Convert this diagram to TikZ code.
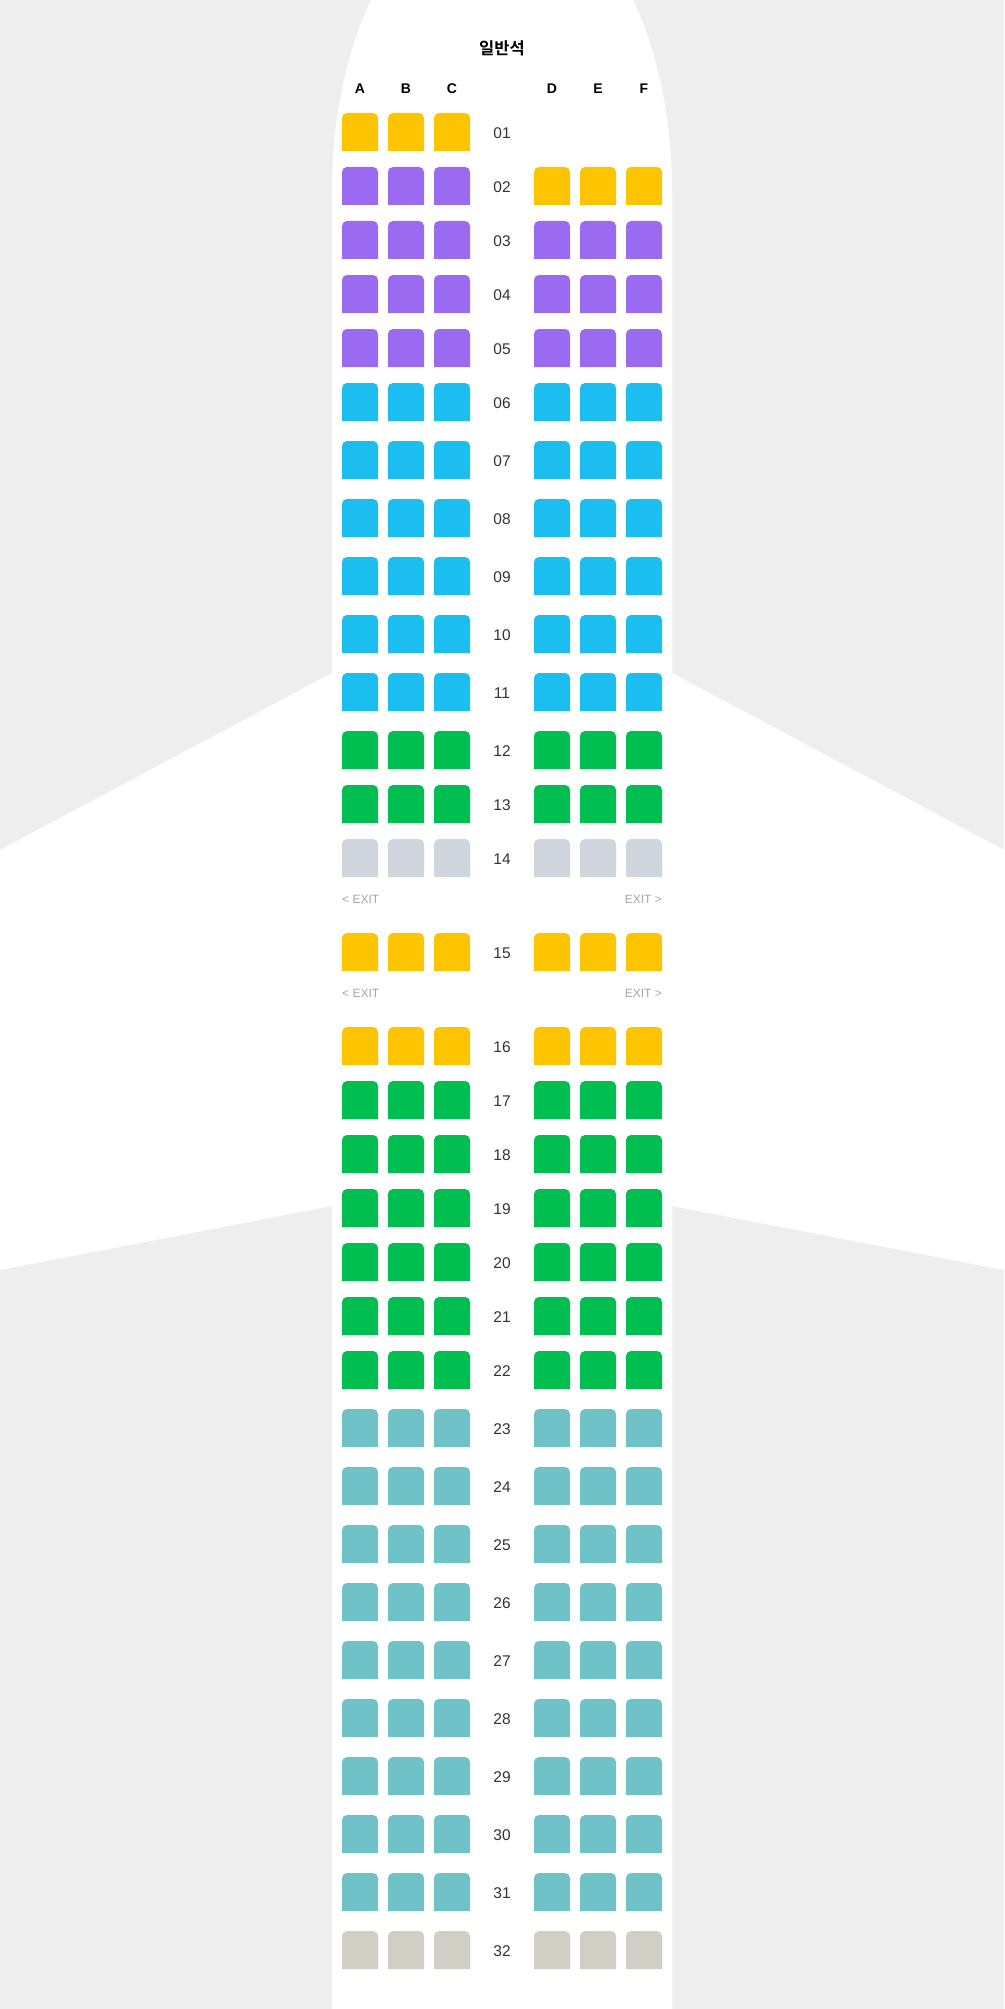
\documentclass[tikz,border=0pt]{standalone}
\usepackage{fontspec}
\setmainfont{Liberation Sans}
\newfontfamily\krfont{Noto Sans CJK KR}[BoldFont={Noto Sans CJK KR Bold}]
\definecolor{bgc}{HTML}{EEEEEE}
\definecolor{sY}{HTML}{FFC400}
\definecolor{sP}{HTML}{9A6AF0}
\definecolor{sB}{HTML}{1CBDEF}
\definecolor{sG}{HTML}{00BF50}
\definecolor{sS}{HTML}{CFD6DD}
\definecolor{sT}{HTML}{6FC3C8}
\definecolor{sK}{HTML}{D1CFC3}
\definecolor{rowtxt}{HTML}{333333}
\definecolor{exittxt}{HTML}{A6A6A6}
\newcommand\seatbox[3]{\fill[#3,rounded corners=5] (#1,#2+38) -- (#1,#2) -- (#1+36,#2) -- (#1+36,#2+38);}
\tikzset{
  rowlbl/.style={text=rowtxt,font=\fontsize{15.5}{18}\selectfont,inner sep=0pt},
  collbl/.style={text=black,font=\fontsize{14}{16}\selectfont\bfseries,inner sep=0pt},
  exitlbl/.style={text=exittxt,font=\fontsize{12}{15}\selectfont,inner sep=0pt},
  titlelbl/.style={text=black,font=\krfont\fontsize{16.5}{20}\selectfont\bfseries,inner sep=0pt}
}
\begin{document}
\begin{tikzpicture}[x=1pt,y=-1pt]
\useasboundingbox (0,0) rectangle (1004,2009);
\clip (0,0) rectangle (1004,2009);
\fill[bgc] (0,0) rectangle (1004,2009);
% wings
\fill[white] (0,850) -- (332,673) -- (332,1206) -- (0,1270) -- cycle;
\fill[white] (1004,850) -- (672,673) -- (672,1206) -- (1004,1270) -- cycle;
% fuselage
\fill[white] (332,2020) -- (332,191) arc[start angle=180,end angle=360,x radius=170,y radius=300] -- (672,2020) -- cycle;
% title and headers
\node[titlelbl] (title) at (502,48) {일반석};
\node[collbl] (hA) at (360,89) {A};
\node[collbl] (hB) at (406,89) {B};
\node[collbl] (hC) at (452,89) {C};
\node[collbl] (hD) at (552,89) {D};
\node[collbl] (hE) at (598,89) {E};
\node[collbl] (hF) at (644,89) {F};
% row 01
\seatbox{342}{113}{sY}
\seatbox{388}{113}{sY}
\seatbox{434}{113}{sY}
\node[rowlbl] (r01) at (502,133) {01};
% rows
\foreach \r/\t/\lc/\rc in {02/167/sP/sY,03/221/sP/sP,04/275/sP/sP,05/329/sP/sP,
  06/383/sB/sB,07/441/sB/sB,08/499/sB/sB,09/557/sB/sB,10/615/sB/sB,11/673/sB/sB,
  12/731/sG/sG,13/785/sG/sG,14/839/sS/sS,15/933/sY/sY,16/1027/sY/sY,
  17/1081/sG/sG,18/1135/sG/sG,19/1189/sG/sG,20/1243/sG/sG,21/1297/sG/sG,22/1351/sG/sG,
  23/1409/sT/sT,24/1467/sT/sT,25/1525/sT/sT,26/1583/sT/sT,27/1641/sT/sT,28/1699/sT/sT,
  29/1757/sT/sT,30/1815/sT/sT,31/1873/sT/sT,32/1931/sK/sK}{
  \seatbox{342}{\t}{\lc}
  \seatbox{388}{\t}{\lc}
  \seatbox{434}{\t}{\lc}
  \seatbox{534}{\t}{\rc}
  \seatbox{580}{\t}{\rc}
  \seatbox{626}{\t}{\rc}
  \node[rowlbl] (r\r) at (502,\t+20) {\r};
}
% exits
\node[exitlbl,anchor=west] (exL1) at (342,899) {< EXIT};
\node[exitlbl,anchor=east] (exR1) at (662,899) {EXIT >};
\node[exitlbl,anchor=west] (exL2) at (342,993) {< EXIT};
\node[exitlbl,anchor=east] (exR2) at (662,993) {EXIT >};
\end{tikzpicture}
\end{document}
